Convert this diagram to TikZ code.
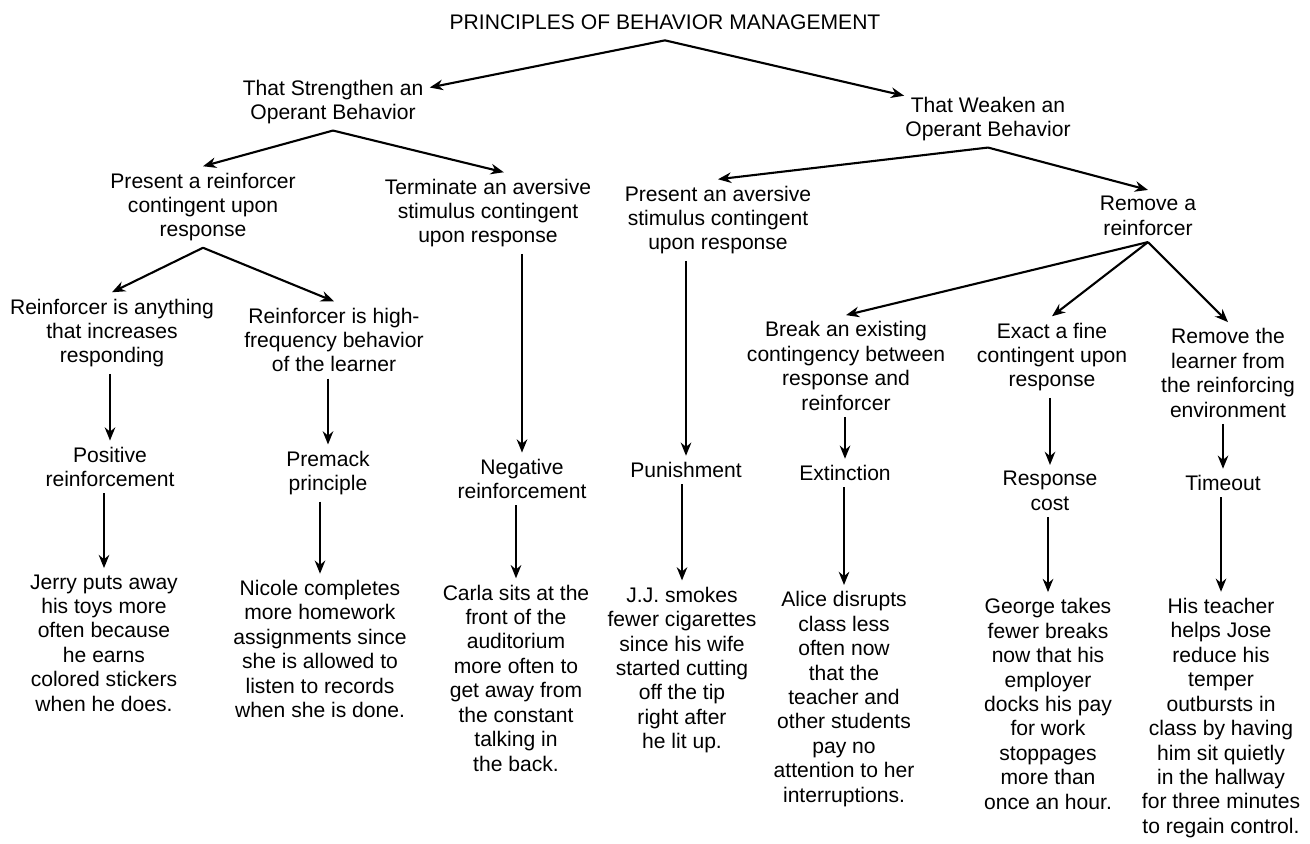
\documentclass[tikz,border=0pt]{standalone}
\usepackage{fontspec}
\setmainfont{Liberation Sans}
\usetikzlibrary{arrows.meta}

\begin{document}
\begin{tikzpicture}[x=0.02cm, y=-0.02cm,
    lbl/.style={align=center, inner sep=3.5pt, font=\fontsize{12}{13.9}\selectfont},
    arr/.style={-{Stealth[length=7.5pt,width=6pt]}, line width=1.2pt}]
  \useasboundingbox (0,0) rectangle (1310,843);

  % top of the tree
  \node[lbl, inner sep=6pt] (title) at (665,22) {PRINCIPLES OF BEHAVIOR MANAGEMENT};
  \node[lbl] (strong) at (333,102) {That Strengthen an\\Operant Behavior};
  \node[lbl] (weak) at (988,119) {That Weaken an\\Operant Behavior};

  \node[lbl] (presrf) at (203,207) {Present a reinforcer\\contingent upon\\response};
  \node[lbl] (termav) at (488,213) {Terminate an aversive\\stimulus contingent\\upon response};
  \node[lbl] (presav) at (718,220) {Present an aversive\\stimulus contingent\\upon response};
  \node[lbl] (remrf) at (1148,216) {Remove a\\reinforcer};

  \node[lbl] (anyth) at (112,333) {Reinforcer is anything\\that increases\\responding};
  \node[lbl] (highf) at (334,340) {Reinforcer is high-\\frequency behavior\\of the learner};
  \node[lbl] (brk) at (846,366) {Break an existing\\contingency between\\response and\\reinforcer};
  \node[lbl] (exact) at (1052,357) {Exact a fine\\contingent upon\\response};
  \node[lbl] (learn) at (1228,373) {Remove the\\learner from\\the reinforcing\\environment};

  % names of the procedures
  \node[lbl] (posr) at (110,467) {Positive\\reinforcement};
  \node[lbl] (prem) at (328,473) {Premack\\principle};
  \node[lbl] (negr) at (522,479) {Negative\\reinforcement};
  \node[lbl] (pun) at (686,470) {Punishment};
  \node[lbl] (ext) at (845,473) {Extinction};
  \node[lbl] (rcost) at (1050,491) {Response\\cost};
  \node[lbl] (tout) at (1223,483) {Timeout};

  % examples
  \node[lbl] (jerry) at (104,643) {Jerry puts away\\his toys more\\often because\\he earns\\colored stickers\\when he does.};
  \node[lbl] (nicole) at (320,649) {Nicole completes\\more homework\\assignments since\\she is allowed to\\listen to records\\when she is done.};
  \node[lbl] (carla) at (516,678) {Carla sits at the\\front of the\\auditorium\\more often to\\get away from\\the constant\\talking in\\the back.};
  \node[lbl] (jj) at (682,670) {J.J. smokes\\fewer cigarettes\\since his wife\\started cutting\\off the tip\\right after\\he lit up.};
  \node[lbl] (alice) at (844,699) {Alice disrupts\\class less\\often now\\that the\\teacher and\\other students\\pay no\\attention to her\\interruptions.};
  \node[lbl] (george) at (1048,704) {George takes\\fewer breaks\\now that his\\employer\\docks his pay\\for work\\stoppages\\more than\\once an hour.};
  \node[lbl] (jose) at (1221,718) {His teacher\\helps Jose\\reduce his\\temper\\outbursts in\\class by having\\him sit quietly\\in the hallway\\for three minutes\\to regain control.};

  \draw[arr] (title.south) -- ([yshift=-8pt]strong.north east);
  \draw[arr] (title.south) -- ([xshift=3pt,yshift=-3pt]weak.north west);
  \draw[arr] (strong.south) -- (presrf.north);
  \draw[arr] (strong.south) -- ([xshift=9pt]termav.north);
  \draw[arr] (weak.south) -- (presav.north);
  \draw[arr] (weak.south) -- (remrf.north);
  \draw[arr] (presrf.south) -- (anyth.north);
  \draw[arr] (presrf.south) -- (highf.north);
  \draw[arr] (remrf.south) -- (brk.north);
  \draw[arr] (remrf.south) -- (exact.north);
  \draw[arr] (remrf.south) -- (learn.north);

  \foreach \a/\b in {anyth/posr, highf/prem, termav/negr, presav/pun, brk/ext,
      exact/rcost, learn/tout, posr/jerry, prem/nicole, negr/carla, pun/jj,
      ext/alice, rcost/george, tout/jose} {
    \draw[arr] (\b.north |- \a.south) -- (\b.north);
  }
\end{tikzpicture}
\end{document}
